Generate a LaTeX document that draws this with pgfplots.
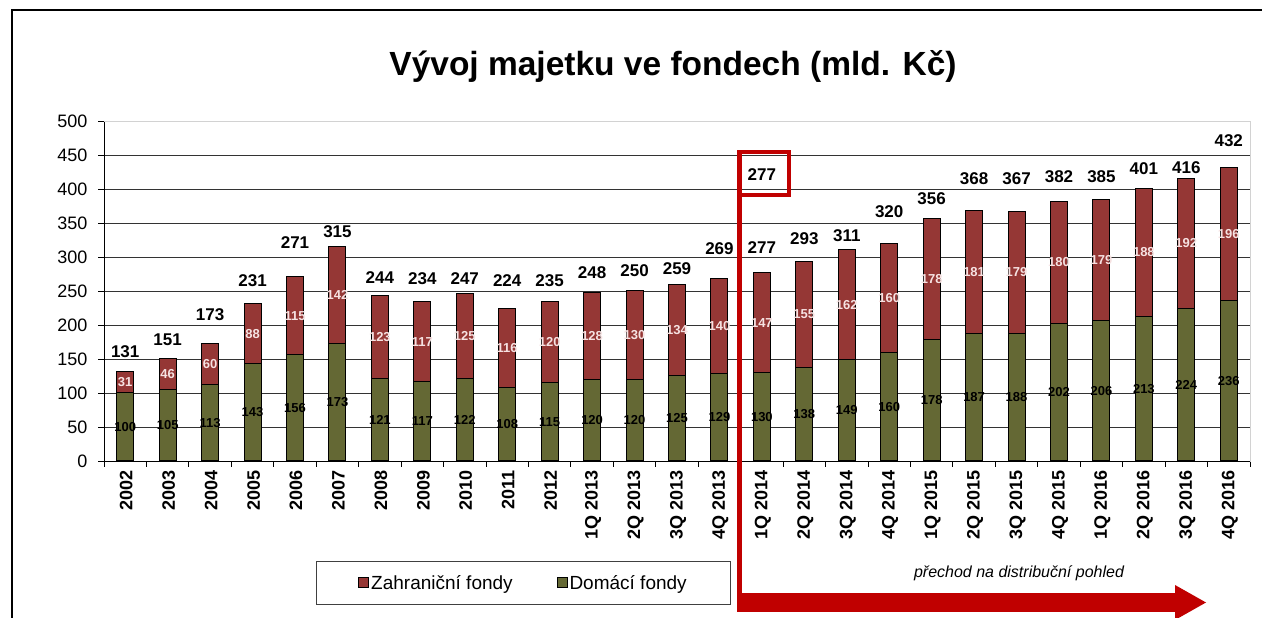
\documentclass[border=0pt]{standalone}
\usepackage{fontspec}
\setmainfont{Liberation Sans}
\usepackage{pgfplots}
\pgfplotsset{compat=1.18}
\usepackage{pgfplotstable}

\definecolor{zred}{RGB}{149,55,53}
\definecolor{dolive}{RGB}{100,104,52}
\definecolor{arrowred}{RGB}{192,0,0}
\definecolor{lblpink}{RGB}{246,226,226}

\pgfplotstableread{
x d f t ty
0 100 31 131 152
1 105 46 151 170
2 113 60 173 206
3 143 88 231 256
4 156 115 271 312
5 173 142 315 328
6 121 123 244 261
7 117 117 234 259
8 122 125 247 259
9 108 116 224 256
10 115 120 235 256
11 120 128 248 269
12 120 130 250 271
13 125 134 259 274
14 129 140 269 303
15 130 147 277 305
16 138 155 293 318
17 149 162 311 323
18 160 160 320 358
19 178 178 356 377
20 187 181 368 406
21 188 179 367 406
22 202 180 382 409
23 206 179 385 409
24 213 188 401 421
25 224 192 416 423
26 236 196 432 462
}\data

\begin{document}
\begin{tikzpicture}[x=1pt,y=1pt]
\useasboundingbox (0,0) rectangle (1262,618);
\fill[white] (0,0) rectangle (1262,618);
\draw[line width=1.2pt] (12,-2) -- (12,608) -- (1264,608);
\node[font=\fontsize{33.5}{38}\selectfont\bfseries] at (673,552) {Vývoj majetku ve fondech (mld. Kč)};
\begin{axis}[
  at={(104pt,157pt)}, anchor=south west,
  scale only axis, width=1146pt, height=340pt,
  xmin=-0.5, xmax=26.5, ymin=0, ymax=500,
  ytick={0,50,...,500},
  xtick={0,...,26},
  xticklabels={2002,2003,2004,2005,2006,2007,2008,2009,2010,2011,2012,1Q 2013,2Q 2013,3Q 2013,4Q 2013,1Q 2014,2Q 2014,3Q 2014,4Q 2014,1Q 2015,2Q 2015,3Q 2015,4Q 2015,1Q 2016,2Q 2016,3Q 2016,4Q 2016},
  minor xtick={-0.5,0.5,...,26.5},
  tick align=outside,
  major tick length=6pt, minor tick length=6pt,
  tick pos=left,
  major x tick style={draw=none},
  minor tick style={black, line width=0.8pt},
  major tick style={black, line width=0.8pt},
  ymajorgrids, grid style={black!80, line width=0.8pt},
  axis line style={draw=gray!35, line width=0.8pt},
  clip=false,
  /pgf/number format/assume math mode=true,
  yticklabel style={font=\fontsize{18}{20}\selectfont, xshift=-7pt},
  xticklabel style={font=\fontsize{18}{20}\selectfont\bfseries, rotate=90, anchor=east, yshift=-1pt},
  legend style={at={(0.185,-0.4235)}, anchor=south west, legend columns=2,
    draw=black!75, line width=0.8pt, font=\fontsize{19}{21}\selectfont,
    inner xsep=42pt, inner ysep=12pt,
    /tikz/every even column/.append style={column sep=42pt}},
  legend image code/.code={\draw[#1,draw=black,line width=0.8pt] (0pt,-5pt) rectangle (10pt,5pt);},
]
\addplot[ybar, bar width=17pt, bar shift=0pt, fill=zred, draw=black, line width=1pt] table[x=x,y=t]{\data};
\addplot[ybar, bar width=17pt, bar shift=0pt, fill=dolive, draw=black, line width=1pt] table[x=x,y=d]{\data};
\legend{Zahraniční fondy, Domácí fondy}
% inside labels
\addplot[draw=none, mark=none, nodes near coords, point meta=explicit symbolic,
  nodes near coords style={anchor=center, inner sep=0pt, font=\fontsize{13}{14}\selectfont\bfseries, text=black}]
  table[x=x, y expr=\thisrow{d}/2, meta=d]{\data};
\addplot[draw=none, mark=none, nodes near coords, point meta=explicit symbolic,
  nodes near coords style={anchor=center, inner sep=0pt, font=\fontsize{13}{14}\selectfont\bfseries, text=lblpink}]
  table[x=x, y expr=\thisrow{d}+\thisrow{f}/2, meta=f]{\data};
\addplot[draw=none, mark=none, nodes near coords, point meta=explicit symbolic,
  nodes near coords style={anchor=base, inner sep=0pt, font=\fontsize{17}{18}\selectfont\bfseries, text=black}]
  table[x=x, y=ty, meta=t]{\data};
% axis lines
\draw[black, line width=0.9pt] (axis cs:-0.5,500) -- (axis cs:-0.5,0) -- (axis cs:26.5,0);
\draw[gray!35, line width=0.8pt] (axis cs:-0.5,500) -- (axis cs:26.5,500) -- (axis cs:26.5,0);
\node[anchor=base, inner sep=0pt, font=\fontsize{17}{18}\selectfont\bfseries] at (axis cs:15,413) {277};
\end{axis}
% annotation
\draw[arrowred, line width=4pt] (739,466) rectangle (789,423);
\fill[arrowred] (737,6) rectangle (742,466);
\fill[arrowred] (737,6) rectangle (1177,25);
\fill[arrowred] (1175,33) -- (1206,15.5) -- (1175,-2) -- cycle;
\node[font=\fontsize{16}{18}\selectfont\itshape] at (1019,45) {přechod na distribuční pohled};
\end{tikzpicture}
\end{document}
